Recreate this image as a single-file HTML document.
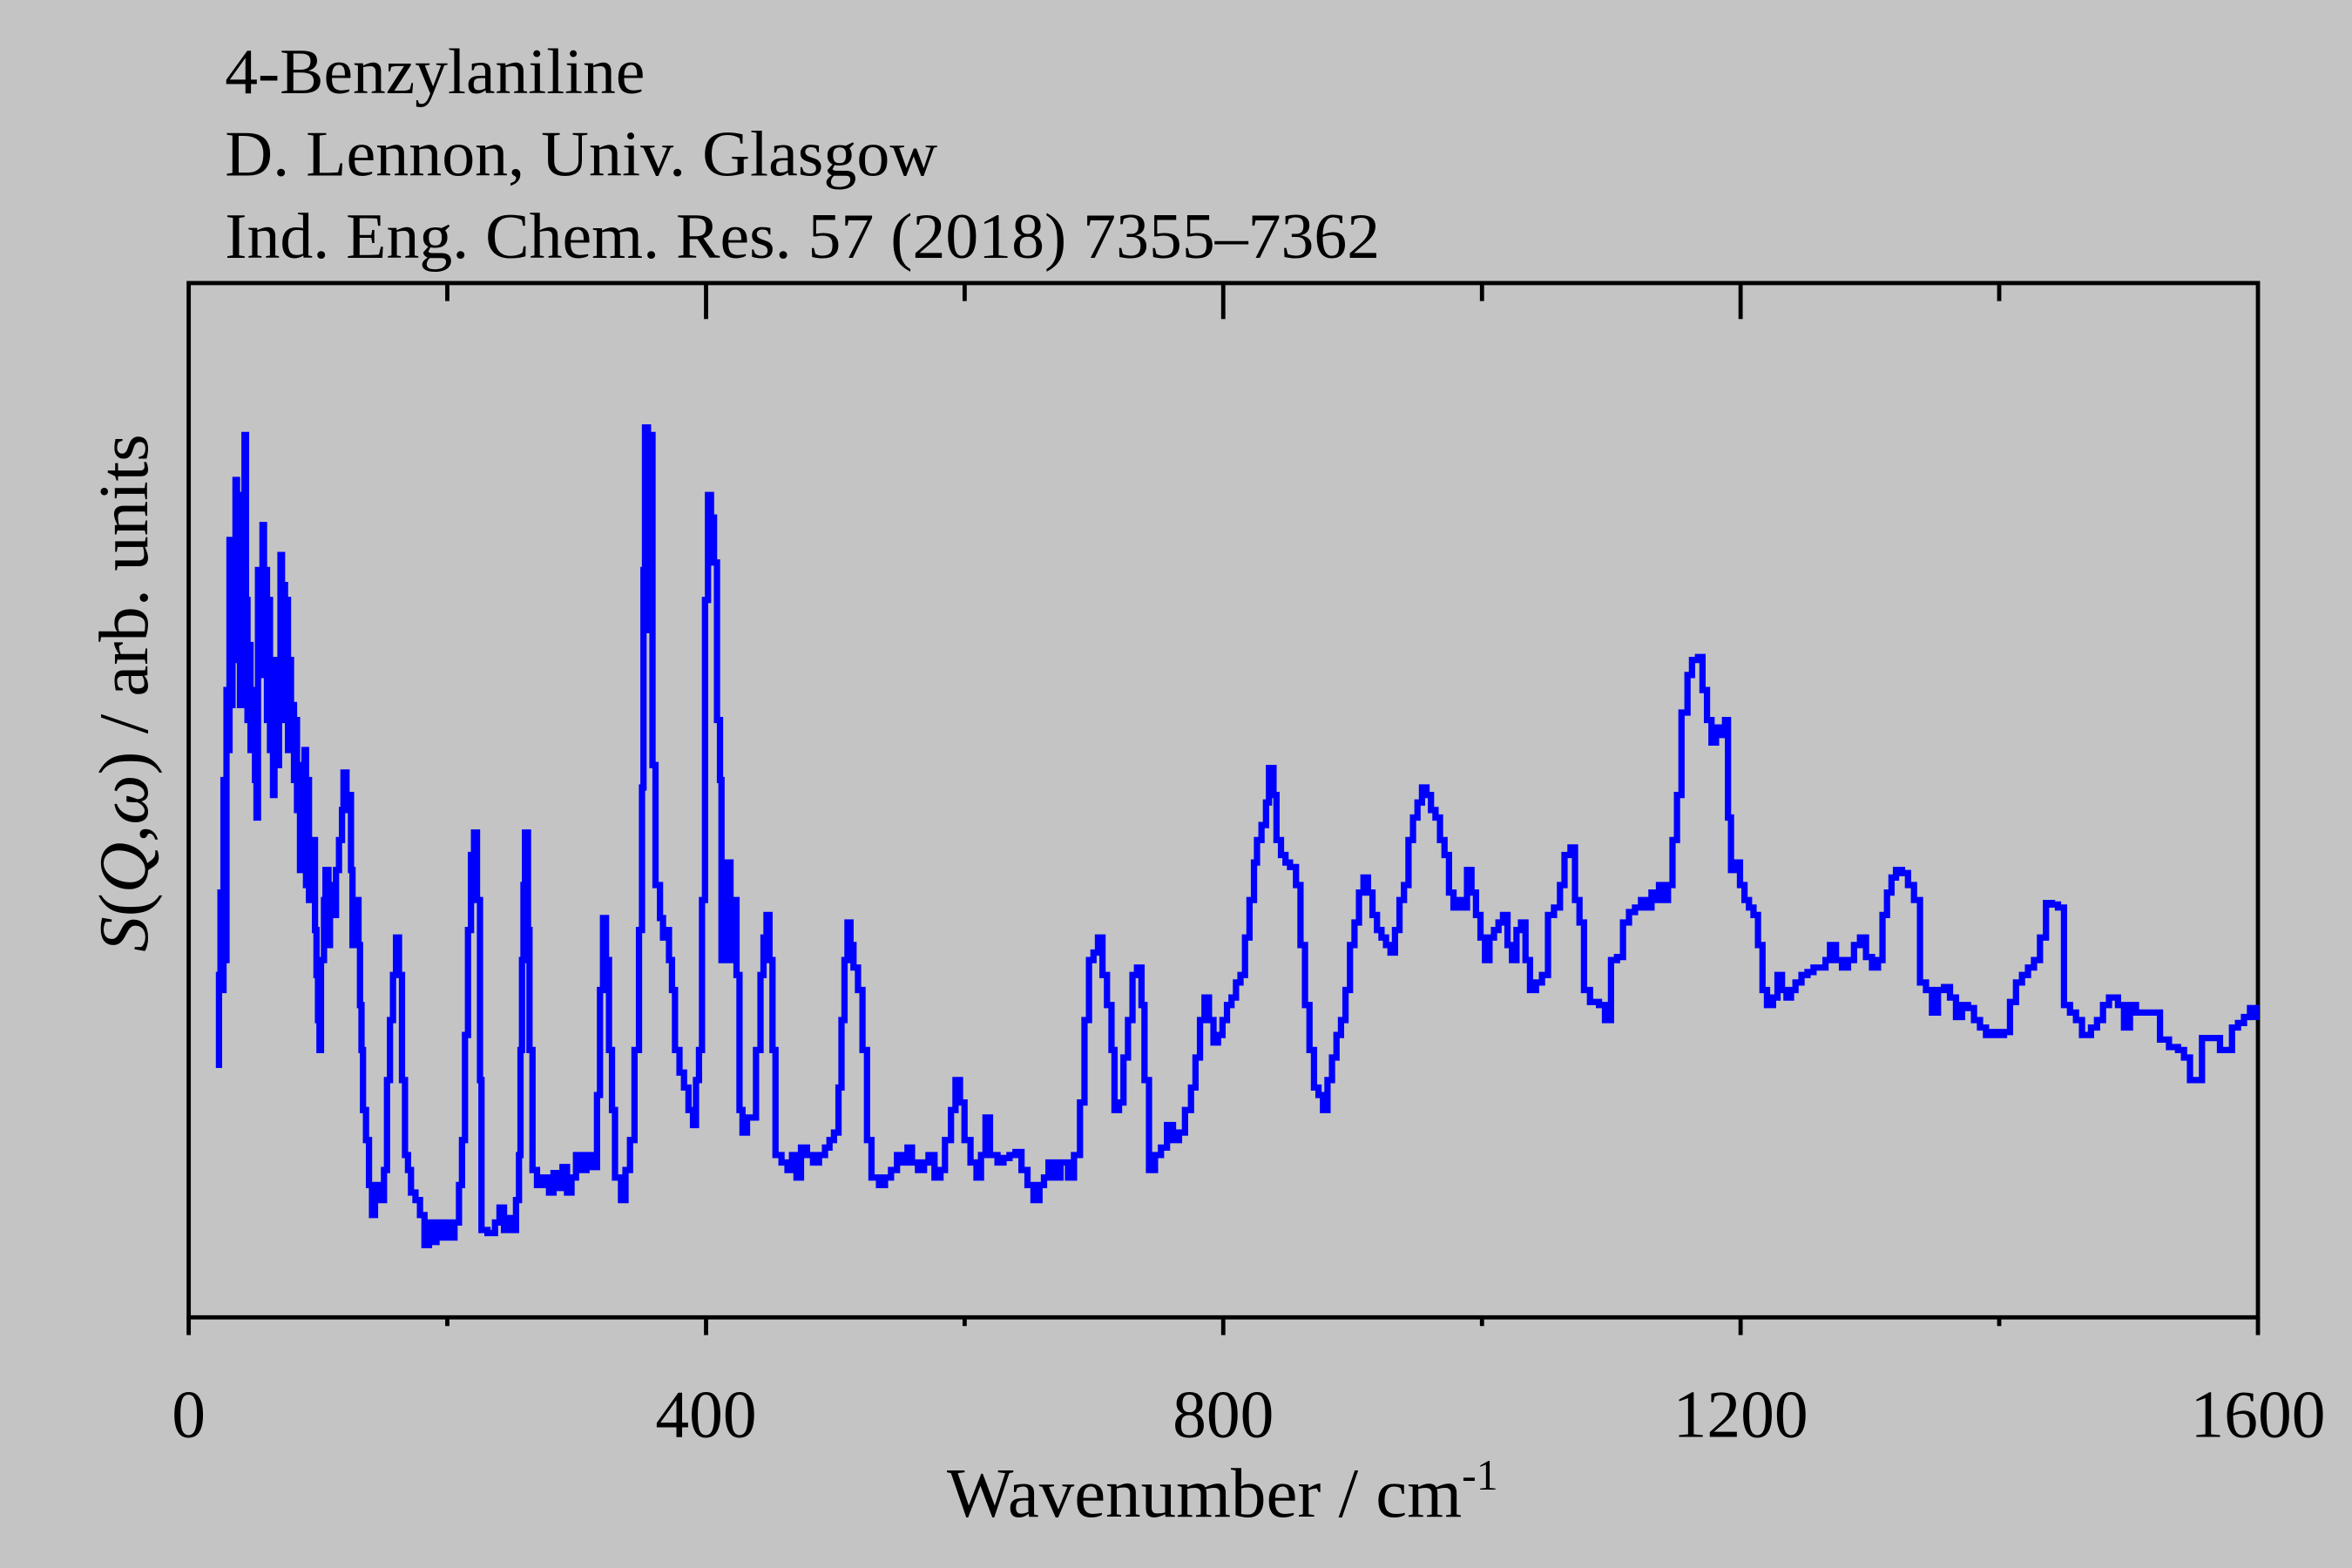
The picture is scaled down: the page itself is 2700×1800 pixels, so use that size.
<!DOCTYPE html>
<html><head><meta charset="utf-8"><style>html,body{margin:0;padding:0;background:#c4c4c4}svg{display:block}</style></head>
<body>
<svg xmlns="http://www.w3.org/2000/svg" width="2700" height="1800" viewBox="0 0 1568 1045.3" preserveAspectRatio="none">
<rect width="1568" height="1046" fill="#c4c4c4"/>
<g font-family="Liberation Serif, serif" fill="#000">
<text x="150" y="62" font-size="43" textLength="280" lengthAdjust="spacingAndGlyphs">4-Benzylaniline</text>
<text x="150" y="117" font-size="43" textLength="475" lengthAdjust="spacingAndGlyphs">D. Lennon, Univ. Glasgow</text>
<text x="150" y="172" font-size="43" textLength="770" lengthAdjust="spacingAndGlyphs">Ind. Eng. Chem. Res. 57 (2018) 7355–7362</text>
<g font-size="45" text-anchor="middle">
<text x="125.8" y="958">0</text>
<text x="470.7" y="958">400</text>
<text x="815.5" y="958">800</text>
<text x="1160.4" y="958">1200</text>
<text x="1505.3" y="958">1600</text>
</g>
<text x="815" y="1011" font-size="47" text-anchor="middle">Wavenumber / cm<tspan font-size="29" dy="-18">-1</tspan></text>
<text transform="translate(98,462) rotate(-90)" font-size="47" text-anchor="middle"><tspan font-style="italic">S</tspan>(<tspan font-style="italic">Q</tspan>,<tspan font-style="italic">ω</tspan>) / arb. units</text>
</g>
<g stroke="#000" stroke-width="2.8" fill="none">
<rect x="125.8" y="188.7" width="1379.5" height="689.5"/>
<path d="M470.7 878v12M815.5 878v12M1160.4 878v12M1505.3 878v12M125.8 878v12
M298.2 878v6M643.1 878v6M988 878v6M1332.8 878v6
M470.7 188.7v24M815.5 188.7v24M1160.4 188.7v24
M298.2 188.7v12M643.1 188.7v12M988 188.7v12M1332.8 188.7v12"/>
</g>
<path fill="none" stroke="#0000ff" stroke-width="4.2" stroke-linejoin="miter" d="M146 712 V650 H147 V595 H148 V660 H149 V520 H150 V640 H151 V460 H152 V500 H153 V360 H154 V470 H155 V380 H156 V440 H157 V320 H158 V420 H159 V340 H160 V470 H161 V330 H162 V450 H163 V290 H164 V400 H165 V480 H166 V430 H167 V500 H168 V460 H170 V520 H171 V545 H172 V380 H174 V420 H175 V350 H176 V450 H177 V380 H178 V480 H179 V400 H180 V500 H181 V440 H182 V530 H183 V470 H185 V510 H186 V440 H187 V370 H188 V480 H189 V390 H190 V460 H191 V400 H192 V500 H193 V440 H194 V470 H196 V520 H197 V480 H198 V540 H199 V510 H200 V580 H201 V530 H202 V560 H203 V500 H204 V590 H205 V520 H206 V600 H208 V560 H210 V620 H211 V650 H212 V680 H213 V700 H214 V640 H216 V600 H217 V580 H219 V630 H220 V590 H222 V610 H224 V580 H226 V560 H228 V540 H229 V515 H231 V540 H232 V530 H234 V580 H235 V630 H237 V600 H239 V630 H240 V670 H241 V700 H242 V740 H244 V760 H246 V790 H248 V810 H250 V790 H253 V800 H256 V780 H258 V720 H260 V680 H262 V650 H264 V625 H266 V650 H268 V720 H270 V770 H272 V780 H274 V795 H277 V800 H280 V810 H283 V830 H286 V815 H288 V828 H291 V815 H294 V825 H297 V815 H300 V825 H303 V815 H306 V790 H308 V760 H310 V690 H312 V620 H314 V570 H316 V555 H318 V600 H320 V720 H321 V820 H325 V822 H330 V815 H333 V805 H336 V820 H339 V812 H342 V820 H344 V800 H346 V770 H347 V700 H348 V640 H349 V590 H350 V555 H352 V620 H353 V700 H355 V780 H358 V790 H362 V785 H366 V795 H369 V782 H372 V792 H375 V778 H378 V795 H381 V785 H384 V770 H387 V780 H391 V770 H395 V778 H398 V730 H400 V660 H402 V612 H404 V640 H406 V700 H408 V740 H410 V785 H414 V800 H417 V780 H420 V760 H423 V700 H426 V620 H428 V525 H429 V380 H430 V285 H432 V300 H433 V420 H434 V290 H435 V510 H437 V590 H440 V612 H442 V625 H444 V620 H446 V640 H448 V660 H450 V700 H453 V715 H456 V725 H459 V740 H462 V750 H464 V720 H466 V700 H468 V600 H470 V400 H472 V330 H474 V345 H476 V375 H478 V480 H480 V520 H481 V640 H483 V630 H485 V575 H487 V640 H489 V600 H491 V650 H493 V740 H495 V755 H498 V745 H501 V745 H504 V700 H507 V650 H509 V625 H511 V610 H513 V640 H515 V700 H517 V770 H521 V775 H525 V780 H528 V770 H531 V785 H534 V765 H538 V770 H542 V775 H546 V770 H550 V765 H553 V760 H556 V755 H559 V725 H561 V680 H563 V640 H565 V615 H567 V630 H569 V645 H572 V660 H575 V700 H578 V760 H581 V785 H586 V790 H590 V785 H594 V780 H598 V770 H602 V775 H605 V765 H608 V775 H612 V780 H616 V775 H619 V770 H623 V785 H627 V780 H630 V760 H634 V740 H637 V720 H640 V735 H643 V760 H647 V775 H651 V785 H654 V770 H657 V745 H660 V770 H665 V775 H669 V772 H673 V770 H677 V768 H681 V780 H685 V790 H689 V800 H693 V790 H696 V785 H699 V775 H703 V785 H707 V775 H712 V785 H716 V770 H720 V735 H723 V680 H726 V640 H729 V635 H732 V625 H735 V650 H738 V670 H741 V700 H743 V740 H746 V735 H749 V705 H752 V680 H755 V650 H758 V645 H761 V670 H763 V720 H766 V780 H770 V770 H774 V765 H778 V750 H782 V760 H786 V755 H790 V740 H794 V725 H797 V705 H800 V680 H803 V665 H806 V680 H809 V695 H812 V690 H815 V680 H818 V670 H821 V665 H824 V655 H827 V650 H830 V625 H833 V600 H836 V575 H838 V560 H841 V550 H844 V535 H846 V512 H849 V530 H851 V560 H854 V570 H857 V575 H860 V578 H864 V590 H867 V630 H870 V670 H873 V700 H876 V725 H879 V730 H882 V740 H885 V720 H888 V705 H891 V690 H894 V680 H897 V660 H900 V630 H903 V615 H906 V595 H909 V585 H912 V595 H915 V610 H918 V620 H921 V625 H924 V630 H927 V635 H930 V620 H933 V600 H936 V590 H939 V560 H942 V545 H945 V535 H948 V525 H951 V530 H954 V540 H957 V545 H960 V560 H963 V570 H966 V595 H969 V605 H972 V600 H975 V605 H978 V580 H981 V595 H984 V610 H987 V625 H990 V640 H993 V625 H996 V620 H999 V615 H1002 V610 H1005 V630 H1008 V640 H1011 V620 H1014 V615 H1017 V640 H1020 V660 H1024 V655 H1028 V650 H1032 V610 H1036 V605 H1040 V590 H1043 V570 H1047 V565 H1050 V600 H1053 V615 H1056 V660 H1060 V668 H1066 V670 H1070 V680 H1074 V640 H1078 V638 H1082 V615 H1086 V608 H1090 V605 H1094 V600 H1098 V605 H1101 V595 H1104 V600 H1106 V590 H1109 V600 H1112 V590 H1115 V560 H1118 V530 H1121 V475 H1125 V450 H1128 V440 H1132 V438 H1135 V460 H1138 V480 H1141 V495 H1144 V485 H1147 V490 H1150 V480 H1152 V545 H1154 V580 H1157 V575 H1160 V590 H1163 V600 H1166 V605 H1169 V610 H1172 V630 H1175 V660 H1178 V670 H1182 V665 H1185 V650 H1188 V660 H1191 V665 H1194 V660 H1197 V655 H1201 V650 H1205 V648 H1209 V645 H1213 V645 H1217 V640 H1220 V630 H1224 V640 H1228 V645 H1232 V640 H1236 V630 H1240 V625 H1244 V638 H1248 V645 H1252 V640 H1255 V610 H1258 V595 H1261 V585 H1264 V580 H1268 V582 H1272 V590 H1276 V600 H1280 V655 H1284 V660 H1288 V675 H1292 V660 H1296 V658 H1300 V665 H1304 V678 H1308 V670 H1312 V672 H1316 V680 H1320 V685 H1324 V690 H1328 V688 H1332 V690 H1336 V688 H1340 V668 H1344 V655 H1348 V650 H1352 V645 H1356 V640 H1360 V625 H1364 V602 H1368 V603 H1372 V605 H1376 V670 H1380 V675 H1384 V680 H1388 V690 H1394 V685 H1398 V680 H1402 V670 H1406 V665 H1412 V670 H1416 V685 H1420 V670 H1424 V675 H1428 V675 H1436 V675 H1440 V693 H1446 V698 H1452 V700 H1456 V705 H1460 V720 H1464 V720 H1468 V692 H1474 V692 H1480 V700 H1484 V700 H1488 V685 H1492 V682 H1496 V678 H1500 V672 H1504 V680"/>
</svg>
</body></html>
